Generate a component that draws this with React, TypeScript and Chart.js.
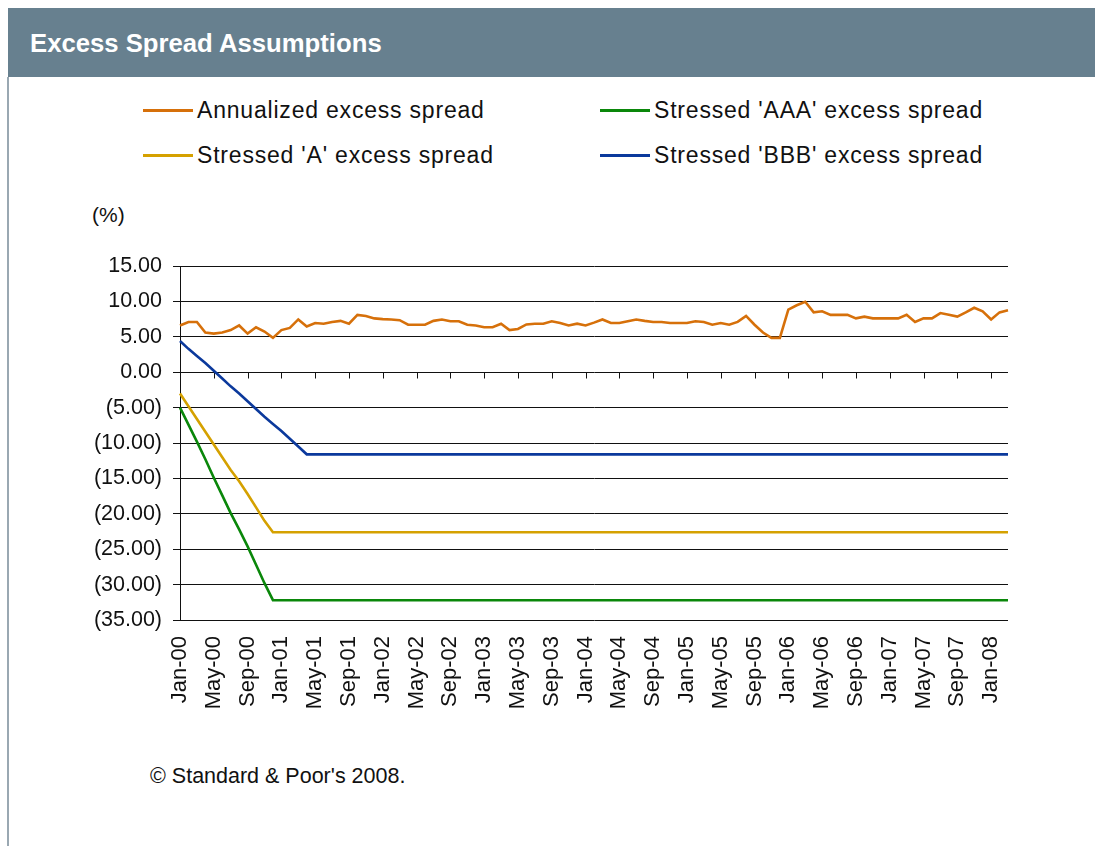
import React, { useEffect, useRef } from 'react';
import { Chart, registerables } from 'chart.js';

Chart.register(...registerables);

// ---- Data ----
const MONTHS = ['Jan', 'Feb', 'Mar', 'Apr', 'May', 'Jun', 'Jul', 'Aug', 'Sep', 'Oct', 'Nov', 'Dec'];
const YEARS = ['00', '01', '02', '03', '04', '05', '06', '07', '08'];
const LAST_MONTH_2008 = 3; // data runs Jan-00 .. Mar-08

const CATEGORIES: string[] = [];
YEARS.forEach((yr, yi) => {
  MONTHS.forEach((m, mi) => {
    if (yi === YEARS.length - 1 && mi >= LAST_MONTH_2008) return;
    CATEGORIES.push(`${m}-${yr}`);
  });
});

const ANNUALIZED = [
  6.6, 7.1, 7.1, 5.6, 5.45, 5.6, 5.95, 6.6, 5.45, 6.35, 5.75, 4.85,
  5.95, 6.25, 7.45, 6.45, 6.95, 6.85, 7.1, 7.25, 6.85, 8.1, 7.95, 7.6,
  7.5, 7.45, 7.35, 6.7, 6.7, 6.7, 7.25, 7.45, 7.2, 7.2, 6.7, 6.6,
  6.35, 6.35, 6.85, 5.95, 6.1, 6.75, 6.85, 6.85, 7.2, 6.95, 6.6, 6.85,
  6.6, 7.0, 7.45, 6.95, 6.95, 7.2, 7.45, 7.25, 7.1, 7.1, 6.95, 6.95,
  6.95, 7.2, 7.1, 6.7, 6.95, 6.7, 7.1, 7.95, 6.7, 5.6, 4.85, 4.85,
  8.85, 9.45, 9.95, 8.45, 8.6, 8.1, 8.1, 8.1, 7.6, 7.85, 7.6, 7.6,
  7.6, 7.6, 8.1, 7.1, 7.6, 7.6, 8.35, 8.1, 7.85, 8.45, 9.1, 8.6,
  7.45, 8.45, 8.75,
];

// Stressed paths: ramp-down months, then a flat floor for the rest of the period
const AAA_RAMP = [-5.0, -7.4, -9.8, -12.3, -14.9, -17.4, -19.9, -22.2, -24.6, -27.2, -29.8];
const AAA_FLOOR = -32.2;
const A_RAMP = [-3.0, -4.8, -6.6, -8.4, -10.2, -12.0, -13.8, -15.4, -17.2, -19.1, -21.0];
const A_FLOOR = -22.6;
const BBB_RAMP = [4.4, 3.3, 2.3, 1.3, 0.2, -0.9, -2.0, -3.0, -4.1, -5.2, -6.3, -7.3, -8.3, -9.4, -10.5];
const BBB_FLOOR = -11.6;

const withFloor = (ramp: number[], floor: number) =>
  CATEGORIES.map((_, i) => (i < ramp.length ? ramp[i] : floor));

const SERIES = [
  { label: 'Annualized excess spread', color: '#D6700A', data: ANNUALIZED },
  { label: "Stressed 'AAA' excess spread", color: '#0A870A', data: withFloor(AAA_RAMP, AAA_FLOOR) },
  { label: "Stressed 'A' excess spread", color: '#D5A100', data: withFloor(A_RAMP, A_FLOOR) },
  { label: "Stressed 'BBB' excess spread", color: '#0B399C', data: withFloor(BBB_RAMP, BBB_FLOOR) },
];

const Y_MIN = -35;
const Y_MAX = 15;
const Y_STEP = 5;
const LABEL_EVERY = 4;

const FONT = "'Liberation Sans', Arial, sans-serif";
const INK = '#111';

const zeroAxisPlugin = {
  id: 'zeroAxis',
  beforeDatasetsDraw(chart: any) {
    const { ctx, scales } = chart;
    const x = scales.x;
    const y = scales.y;
    const y0 = Math.round(y.getPixelForValue(0)) + 0.5;
    ctx.save();
    ctx.strokeStyle = INK;
    ctx.lineWidth = 1;
    ctx.beginPath();
    for (let i = 0; i < CATEGORIES.length; i += LABEL_EVERY) {
      const px = Math.round(x.getPixelForValue(i)) + 0.5;
      ctx.moveTo(px, y0);
      ctx.lineTo(px, y0 + 6);
    }
    ctx.stroke();
    ctx.restore();
  },
};

function ChartCanvas() {
  const ref = useRef<HTMLCanvasElement | null>(null);
  useEffect(() => {
    if (!ref.current) return;
    const chart = new Chart(ref.current, {
      type: 'line',
      data: {
        labels: CATEGORIES,
        datasets: SERIES.map((s) => ({
          label: s.label,
          data: s.data,
          borderColor: s.color,
          backgroundColor: s.color,
          borderWidth: 2.6,
          pointRadius: 0,
          tension: 0,
          fill: false,
        })),
      },
      options: {
        animation: false,
        responsive: false,
        maintainAspectRatio: false,
        layout: { padding: { top: 76, right: 87, left: 0, bottom: 0 } },
        plugins: { legend: { display: false }, tooltip: { enabled: false } },
        scales: {
          x: {
            type: 'category',
            offset: false,
            grid: { display: false },
            border: { display: false },
            afterFit: (scale: any) => {
              scale.height = 100;
            },
            ticks: {
              autoSkip: false,
              maxRotation: 90,
              minRotation: 90,
              padding: 8,
              color: INK,
              font: { family: FONT, size: 22 },
              callback: (_v: any, i: number) => (i % LABEL_EVERY === 0 ? CATEGORIES[i] : ''),
            },
          },
          y: {
            min: Y_MIN,
            max: Y_MAX,
            afterFit: (scale: any) => {
              scale.width = 180;
            },
            grid: { color: INK, lineWidth: 1, drawTicks: true, tickLength: 7, tickColor: INK },
            border: { display: true, color: INK, width: 1 },
            ticks: {
              stepSize: Y_STEP,
              padding: 11,
              color: INK,
              font: { family: FONT, size: 21.5 },
              callback: (v: any) => {
                const n = Number(v);
                return n < 0 ? `(${Math.abs(n).toFixed(2)})` : n.toFixed(2);
              },
            },
          },
        },
      },
      plugins: [zeroAxisPlugin],
    } as any);
    return () => chart.destroy();
  }, []);
  return (
    <canvas
      ref={ref}
      width={1095}
      height={530}
      style={{ position: 'absolute', left: 0, top: 190, width: 1095, height: 530 }}
    />
  );
}

export default function App() {
  const legendPos = [
    { left: 143, top: 110 },
    { left: 600, top: 110 },
    { left: 143, top: 155 },
    { left: 600, top: 155 },
  ];
  return (
    <div
      style={{
        position: 'absolute',
        left: 0,
        top: 0,
        width: 1095,
        height: 846,
        overflow: 'hidden',
        background: '#fff',
        fontFamily: FONT,
        color: INK,
      }}
    >
      <div
        style={{
          position: 'absolute',
          left: 8,
          top: 8,
          width: 1087,
          height: 69,
          background: '#67808F',
        }}
      />
      <div
        style={{
          position: 'absolute',
          left: 30,
          top: 28,
          fontSize: 25.7,
          lineHeight: '30px',
          fontWeight: 'bold',
          color: '#fff',
          whiteSpace: 'nowrap',
        }}
      >
        Excess Spread Assumptions
      </div>
      <div style={{ position: 'absolute', left: 7, top: 77, width: 2, height: 769, background: '#9AA8B2' }} />
      <div
        style={{
          position: 'absolute',
          left: 107,
          top: 90,
          width: 906,
          height: 86,
          background: '#fff',
        }}
      />
      {[SERIES[0], SERIES[1], SERIES[2], SERIES[3]].map((s, k) => {
        const p = legendPos[k];
        return (
          <React.Fragment key={s.label}>
            <div
              style={{
                position: 'absolute',
                left: p.left,
                top: p.top - 1.5,
                width: 50,
                height: 3,
                background: s.color,
              }}
            />
            <div
              style={{
                position: 'absolute',
                left: p.left + 54,
                top: p.top - 14,
                fontSize: 23,
                lineHeight: '28px',
                letterSpacing: '0.8px',
                whiteSpace: 'nowrap',
              }}
            >
              {s.label}
            </div>
          </React.Fragment>
        );
      })}
      <div style={{ position: 'absolute', left: 92, top: 202, fontSize: 21, lineHeight: '26px' }}>(%)</div>
      <ChartCanvas />
      <div
        style={{ position: 'absolute', left: 150, top: 763, fontSize: 21.5, lineHeight: '26px', whiteSpace: 'nowrap' }}
      >
        © Standard &amp; Poor's 2008.
      </div>
    </div>
  );
}
